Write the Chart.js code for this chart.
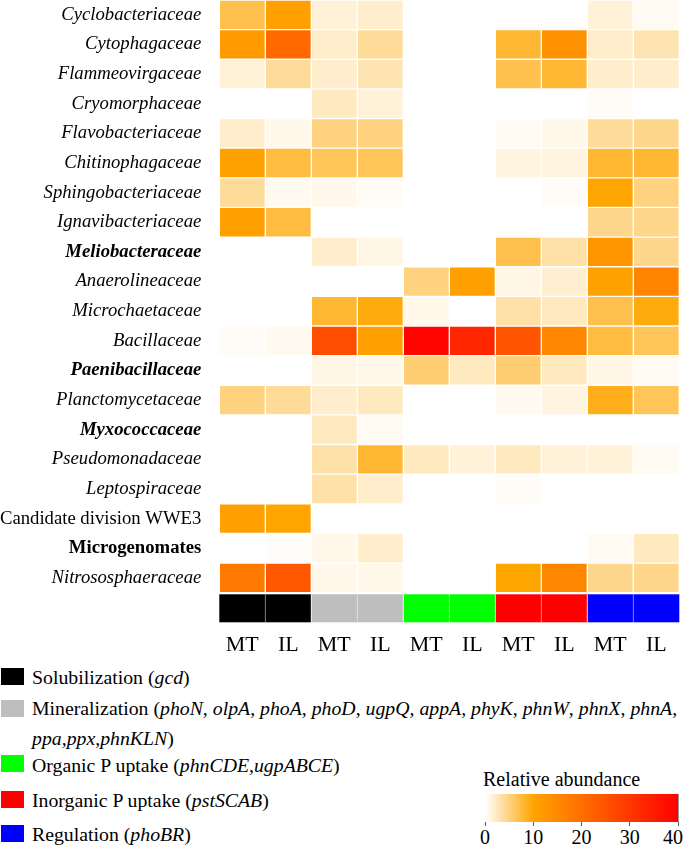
<!DOCTYPE html>
<html>
<head>
<meta charset="utf-8">
<script src="https://cdn.jsdelivr.net/npm/chart.js@4.4.1/dist/chart.umd.min.js"></script>
<style>
  body { margin: 0; background: #fff; width: 685px; height: 845px; position: relative; overflow: hidden; font-family: "Liberation Serif", "Times New Roman", serif; color: #000; }
  #heat { position: absolute; left: 0; top: 0; }
  .sq { position: absolute; left: 1px; width: 23px; height: 17px; }
  .lg { position: absolute; left: 32px; font-size: 19.8px; line-height: 20px; white-space: nowrap; }
  .tk { position: absolute; font-size: 20px; line-height: 20px; }
</style>
</head>
<body>
<canvas id="heat" width="685" height="665"></canvas>

<div class="sq" style="top:668px;background:#000"></div>
<div class="lg" style="top:667px">Solubilization (<i>gcd</i>)</div>
<div class="sq" style="top:700px;background:#bebebe"></div>
<div class="lg" style="top:698px">Mineralization (<i>phoN</i>, <i>olpA</i>, <i>phoA</i>, <i>phoD</i>, <i>ugpQ</i>, <i>appA</i>, <i>phyK</i>, <i>phnW</i>, <i>phnX</i>, <i>phnA</i>,</div>
<div class="lg" style="top:728px"><i>ppa</i>,<i>ppx</i>,<i>phnKLN</i>)</div>
<div class="sq" style="top:755px;background:#00ff00"></div>
<div class="lg" style="top:755px">Organic P uptake (<i>phnCDE</i>,<i>ugpABCE</i>)</div>
<div class="sq" style="top:791px;background:#ff0000"></div>
<div class="lg" style="top:790px">Inorganic P uptake (<i>pstSCAB</i>)</div>
<div class="sq" style="top:825px;background:#0000ff"></div>
<div class="lg" style="top:824px">Regulation (<i>phoBR</i>)</div>

<div class="tk" style="left:483px;top:769px">Relative abundance</div>
<div style="position:absolute;left:485px;top:794px;width:193px;height:28px;border-right:1px solid #999;background:linear-gradient(to right,#ffffff 0%,#ffa500 25%,#ff0000 100%)"></div>
<div id="scale"></div>

<script>
// rows (families) top to bottom
const families = ["Cyclobacteriaceae", "Cytophagaceae", "Flammeovirgaceae", "Cryomorphaceae", "Flavobacteriaceae",
  "Chitinophagaceae", "Sphingobacteriaceae", "Ignavibacteriaceae", "Meliobacteraceae", "Anaerolineaceae",
  "Microchaetaceae", "Bacillaceae", "Paenibacillaceae", "Planctomycetaceae", "Myxococcaceae",
  "Pseudomonadaceae", "Leptospiraceae", "Candidate division WWE3", "Microgenomates", "Nitrososphaeraceae"];
const boldRows = ["Meliobacteraceae", "Paenibacillaceae", "Myxococcaceae", "Microgenomates"];
const uprightRows = ["Candidate division WWE3", "Microgenomates"];

// columns
const samples = ["MT", "IL", "MT", "IL", "MT", "IL", "MT", "IL", "MT", "IL"];
const groups = ["Solubilization", "Solubilization", "Mineralization", "Mineralization", "Organic P uptake",
  "Organic P uptake", "Inorganic P uptake", "Inorganic P uptake", "Regulation", "Regulation"];
const groupColors = {
  "Solubilization": "#000000",
  "Mineralization": "#bebebe",
  "Organic P uptake": "#00ff00",
  "Inorganic P uptake": "#ff0000",
  "Regulation": "#0000ff"
};

// relative abundance (%) per column, one value per family
const solMT = [7, 12, 1.5, 0, 2, 10.5, 4, 11, 0, 0, 0, 0.3, 0, 5, 0, 0, 0, 11, 0, 18];
const solIL = [11, 21, 4, 0, 0.8, 7.5, 0.6, 7.5, 0, 0, 0, 0.6, 0, 4, 0, 0, 0, 10, 0.2, 24];
const minMT = [1.5, 2, 2, 2.5, 5, 6.5, 0.8, 0, 2, 0, 8, 26, 1, 2, 2.5, 3.5, 3.5, 0, 0.8, 0.8];
const minIL = [2, 4, 3, 1.5, 5, 6.5, 0.4, 0, 1, 0, 9.5, 11, 0.8, 2.5, 0.5, 8, 2, 0, 2, 0.8];
const orgMT = [0, 0, 0, 0, 0, 0, 0, 0, 0, 5, 0.8, 39, 5.5, 0, 0, 2.5, 0, 0, 0, 0];
const orgIL = [0, 0, 0, 0, 0, 0, 0, 0, 0, 11, 0, 33, 2.5, 0, 0, 1.5, 0, 0, 0, 0];
const inoMT = [0, 8, 7, 0, 0.5, 1.2, 0, 0, 7, 1, 3.5, 24.5, 5.5, 0.6, 0, 2.5, 0.3, 0, 0, 10];
const inoIL = [0, 13.5, 8, 0, 0.8, 1.2, 0.3, 0, 3.5, 1.8, 2.5, 15.5, 2.5, 1.2, 0, 1.5, 0, 0, 0, 15.5];
const regMT = [1.5, 2, 2, 0.3, 4, 8, 10, 4.5, 13, 10.5, 7, 7.5, 1, 9, 0, 1.5, 0, 0, 0.5, 4.5];
const regIL = [0.5, 3, 2, 0, 4.5, 8, 5, 4.5, 4.5, 16, 9.5, 6.5, 0.5, 6.5, 0, 0.5, 0, 0, 2.5, 4.5];
const columns = [solMT, solIL, minMT, minIL, orgMT, orgIL, inoMT, inoIL, regMT, regIL];

// colour scale ticks
const scaleTicks = [0, 10, 20, 30, 40];

// white -> orange (10) -> red (40)
function heatColor(v) {
  if (!v) return "#ffffff";
  if (v <= 10) {
    const t = v / 10;
    return `rgb(255,${Math.round(255 - 90 * t)},${Math.round(255 - 255 * t)})`;
  }
  const t = Math.min((v - 10) / 30, 1);
  return `rgb(255,${Math.round(165 * (1 - t))},0)`;
}

const datasets = columns.map((vals, c) => ({
  data: vals.map(() => [c, c + 1]),
  backgroundColor: vals.map(heatColor),
  borderColor: "rgba(255,255,255,0.45)",
  borderWidth: 1,
  borderSkipped: false,
  grouped: false,
  barPercentage: 1,
  categoryPercentage: 1
}));

// group colour strip under the heatmap
const stripPlugin = {
  id: "strip",
  afterDatasetsDraw(chart) {
    const ctx = chart.ctx;
    const x = chart.scales.x;
    const top = chart.chartArea.bottom + 1.6;
    ctx.save();
    groups.forEach((g, c) => {
      const x0 = x.getPixelForValue(c);
      const x1 = x.getPixelForValue(c + 1);
      ctx.fillStyle = groupColors[g];
      ctx.fillRect(x0, top, x1 - x0, 28);
      if (c > 0) {
        ctx.fillStyle = groups[c - 1] === g ? "rgba(255,255,255,0.35)" : "rgba(255,255,255,0.8)";
        ctx.fillRect(x0 - 0.5, top, 1, 28);
      }
    });
    ctx.restore();
  }
};

new Chart(document.getElementById("heat"), {
  type: "bar",
  data: { labels: families, datasets: datasets },
  options: {
    indexAxis: "y",
    responsive: false,
    animation: false,
    devicePixelRatio: 1,
    layout: { padding: { left: 0, right: 5.7, top: 0, bottom: 0 } },
    plugins: { legend: { display: false }, tooltip: { enabled: false } },
    scales: {
      x: { type: "linear", min: 0, max: 10, display: false },
      xl: {
        type: "category",
        labels: samples,
        position: "bottom",
        offset: true,
        grid: { display: false, drawTicks: false },
        border: { display: false },
        ticks: { color: "#000", padding: 39, maxRotation: 0, autoSkip: false,
          font: { family: "Liberation Serif", size: 22 } },
        afterFit: s => { s.height = 665 - 592.7; s.paddingLeft = 0; s.paddingRight = 0; }
      },
      y: {
        type: "category",
        offset: true,
        grid: { display: false, drawTicks: false },
        border: { display: false },
        ticks: {
          color: "#000",
          padding: 18,
          autoSkip: false,
          font: c => {
            const name = families[c.index];
            return {
              family: "Liberation Serif",
              size: 18.7,
              style: uprightRows.includes(name) ? "normal" : "italic",
              weight: boldRows.includes(name) ? "bold" : "normal"
            };
          }
        },
        afterFit: s => { s.width = 219.3; s.paddingTop = 0; s.paddingBottom = 0; }
      }
    }
  },
  plugins: [stripPlugin]
});

// colour bar tick labels and marks
const scaleDiv = document.getElementById("scale");
scaleTicks.forEach((t, i) => {
  const px = 485 + (t / 40) * 193;
  const mark = document.createElement("div");
  mark.style.cssText = `position:absolute;left:${px - 0.5}px;top:822px;width:1px;height:4px;background:#555`;
  scaleDiv.appendChild(mark);
  const lab = document.createElement("div");
  lab.className = "tk";
  lab.textContent = t;
  lab.style.top = "827px";
  if (i === scaleTicks.length - 1) {
    lab.style.right = "2px";
  } else {
    lab.style.left = px + "px";
    lab.style.transform = "translateX(-50%)";
  }
  scaleDiv.appendChild(lab);
});
</script>
</body>
</html>
